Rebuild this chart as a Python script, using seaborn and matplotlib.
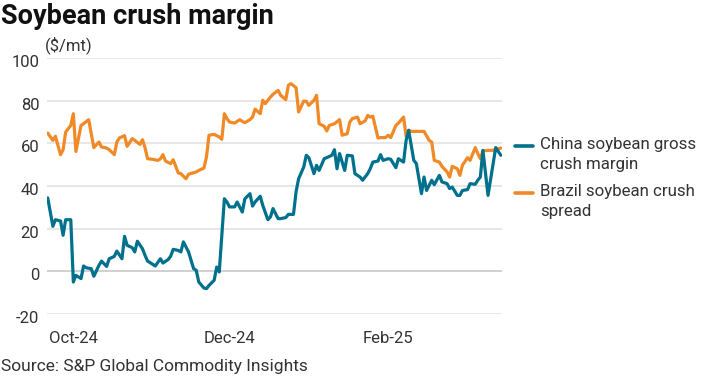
import pandas as pd
import seaborn as sns
import matplotlib.pyplot as plt
import matplotlib.dates as mdates
from matplotlib.lines import Line2D
from matplotlib.transforms import ScaledTranslation

# China soybean gross crush margin ($/mt)
china_dates = [
    "2024-09-21", "2024-09-23", "2024-09-24", "2024-09-26", "2024-09-27", "2024-09-28", "2024-09-30",
    "2024-10-01", "2024-10-02", "2024-10-04", "2024-10-05", "2024-10-06", "2024-10-08", "2024-10-09",
    "2024-10-11", "2024-10-12", "2024-10-14", "2024-10-15", "2024-10-17", "2024-10-18", "2024-10-20",
    "2024-10-21", "2024-10-22", "2024-10-24", "2024-10-25", "2024-10-26", "2024-10-28", "2024-10-29",
    "2024-10-30", "2024-11-01", "2024-11-02", "2024-11-04", "2024-11-05", "2024-11-07", "2024-11-08",
    "2024-11-09", "2024-11-11", "2024-11-12", "2024-11-13", "2024-11-15", "2024-11-17", "2024-11-18",
    "2024-11-19", "2024-11-21", "2024-11-22", "2024-11-23", "2024-11-25", "2024-11-26", "2024-11-27",
    "2024-11-29", "2024-11-30", "2024-12-01", "2024-12-03", "2024-12-04", "2024-12-06", "2024-12-07",
    "2024-12-09", "2024-12-10", "2024-12-11", "2024-12-13", "2024-12-14", "2024-12-16", "2024-12-17",
    "2024-12-18", "2024-12-20", "2024-12-21", "2024-12-23", "2024-12-24", "2024-12-26", "2024-12-27",
    "2024-12-28", "2024-12-30", "2024-12-31", "2025-01-01", "2025-01-03", "2025-01-04", "2025-01-05",
    "2025-01-07", "2025-01-08", "2025-01-10", "2025-01-11", "2025-01-12", "2025-01-13", "2025-01-15",
    "2025-01-16", "2025-01-18", "2025-01-19", "2025-01-21", "2025-01-22", "2025-01-24", "2025-01-25",
    "2025-01-26", "2025-01-28", "2025-01-29", "2025-01-30", "2025-02-01", "2025-02-02", "2025-02-04",
    "2025-02-05", "2025-02-07", "2025-02-08", "2025-02-09", "2025-02-11", "2025-02-12", "2025-02-14",
    "2025-02-15", "2025-02-16", "2025-02-18", "2025-02-19", "2025-02-21", "2025-02-22", "2025-02-24",
    "2025-02-25", "2025-02-26", "2025-02-28", "2025-03-01", "2025-03-02", "2025-03-04", "2025-03-05",
    "2025-03-07", "2025-03-08", "2025-03-09", "2025-03-10", "2025-03-12", "2025-03-15", "2025-03-17",
]
china_margin = [
    34.4, 21.1, 24.2, 23.6, 16.9, 24.2, 24.2,
    -5.0, -1.9, -3.4, 2.5, 1.7, 1.2, -2.3, 2.8, 4.8, 2.3, 5.9, 7.0, 9.5, 5.9,
    16.4, 12.2, 11.1, 9.1, 14.1, 10.6, 7.5, 4.8,
    3.3, 2.5, 5.9, 3.9, 5.5, 7.0, 10.3, 9.8, 9.1, 13.8, 9.1, 1.2, 0.5,
    -5.0, -7.8, -8.1, -6.6, -4.2, 2.0, -0.3, 34.0, 32.5,
    30.2, 30.2, 32.5, 27.8, 34.0, 36.4, 30.6, 32.5, 35.2, 30.9, 24.2, 25.5,
    29.4, 24.7, 24.7, 25.2, 26.7, 26.7, 37.2, 43.4, 48.9, 54.4,
    53.3, 45.8, 49.7, 47.3, 52.8, 53.3, 54.4, 57.0, 48.1, 55.2, 47.3,
    54.4, 54.1, 45.8, 44.2, 42.7, 45.8, 48.1, 51.2, 51.7, 54.7, 52.0,
    52.8, 52.5, 48.6, 52.8, 51.2, 61.4, 66.1, 52.0, 50.5, 36.4,
    44.2, 37.9, 42.7, 40.6, 45.0, 41.9, 41.1, 38.8, 39.5, 35.6,
    35.6, 37.9, 38.3, 41.1, 40.8, 42.7, 44.2, 56.7, 35.6, 58.0, 54.4,
]

# Brazil soybean crush spread ($/mt)
brazil_dates = [
    "2024-09-21", "2024-09-23", "2024-09-24", "2024-09-26", "2024-09-27", "2024-09-28", "2024-09-30",
    "2024-10-01", "2024-10-02", "2024-10-04", "2024-10-05", "2024-10-07", "2024-10-08", "2024-10-09",
    "2024-10-11", "2024-10-12", "2024-10-14", "2024-10-15", "2024-10-17", "2024-10-18", "2024-10-19",
    "2024-10-21", "2024-10-22", "2024-10-24", "2024-10-25", "2024-10-27", "2024-10-28", "2024-10-29",
    "2024-10-30", "2024-11-01", "2024-11-03", "2024-11-04", "2024-11-05", "2024-11-06", "2024-11-08",
    "2024-11-09", "2024-11-11", "2024-11-12", "2024-11-14", "2024-11-15", "2024-11-18", "2024-11-19",
    "2024-11-21", "2024-11-22", "2024-11-23", "2024-11-25", "2024-11-27", "2024-11-28", "2024-11-29",
    "2024-11-30", "2024-12-01", "2024-12-03", "2024-12-05", "2024-12-06", "2024-12-07", "2024-12-09",
    "2024-12-10", "2024-12-11", "2024-12-13", "2024-12-14", "2024-12-15", "2024-12-17", "2024-12-18",
    "2024-12-20", "2024-12-21", "2024-12-23", "2024-12-24", "2024-12-25", "2024-12-27", "2024-12-28",
    "2024-12-30", "2024-12-31", "2025-01-01", "2025-01-03", "2025-01-04", "2025-01-05", "2025-01-07",
    "2025-01-08", "2025-01-09", "2025-01-11", "2025-01-13", "2025-01-14", "2025-01-16", "2025-01-17",
    "2025-01-18", "2025-01-20", "2025-01-21", "2025-01-23", "2025-01-24", "2025-01-25", "2025-01-26",
    "2025-01-28", "2025-01-29", "2025-01-31", "2025-02-01", "2025-02-02", "2025-02-04", "2025-02-05",
    "2025-02-07", "2025-02-08", "2025-02-09", "2025-02-10", "2025-02-11", "2025-02-13", "2025-02-14",
    "2025-02-15", "2025-02-17", "2025-02-18", "2025-02-19", "2025-02-21", "2025-02-22", "2025-02-24",
    "2025-02-25", "2025-02-26", "2025-02-28", "2025-03-01", "2025-03-02", "2025-03-04", "2025-03-05",
    "2025-03-07", "2025-03-08", "2025-03-09", "2025-03-10", "2025-03-12", "2025-03-14", "2025-03-17",
]
brazil_spread = [
    64.8, 61.4, 63.3, 54.7, 57.0, 65.3, 68.4,
    73.9, 56.2, 68.4, 69.2, 71.1, 64.5, 58.0, 60.6, 58.3, 57.8, 57.0, 54.7, 60.6, 62.5,
    63.6, 58.6, 62.2, 61.4, 59.5, 61.7, 58.0, 52.8,
    52.5, 52.0, 52.7, 54.7, 51.7, 50.5, 52.3, 46.1, 45.8, 43.4, 45.5, 46.6, 47.3,
    48.4, 53.6, 63.8, 64.2, 63.0, 61.9, 73.9, 71.6,
    70.0, 69.5, 71.1, 70.3, 69.7, 71.1, 72.3, 76.0, 73.9, 80.2, 78.6, 81.7,
    83.0, 84.8, 82.5, 80.5, 87.2, 88.0, 86.1, 74.7, 79.8, 79.7,
    77.8, 80.2, 82.5, 69.2, 68.0, 65.8, 68.4, 69.2, 71.1, 63.8, 64.5,
    70.0, 71.6, 72.3, 69.2, 70.5, 73.1, 72.3, 72.7, 62.5, 62.7, 62.7,
    63.8, 62.7, 68.4, 69.5, 72.3, 63.3, 66.1, 65.6, 65.6, 65.6,
    65.6, 65.6, 61.4, 60.6, 52.0, 51.2, 49.2, 46.6, 44.2, 49.2, 48.1,
    45.0, 49.7, 53.3, 52.0, 58.0, 55.2, 52.8, 56.4, 56.7, 56.7, 57.8,
]

series_labels = {
    "China": "China soybean gross\ncrush margin",
    "Brazil": "Brazil soybean crush\nspread",
}
y_ticks = [-20, 0, 20, 40, 60, 80, 100]
x_ticks = ["2024-10-01", "2024-12-01", "2025-02-01"]

teal = "#00718d"
orange = "#f18a26"
text_col = "#333333"

sns.set_theme(style="white")
plt.rcParams["font.family"] = ["Roboto", "DejaVu Sans"]
plt.rcParams["axes.unicode_minus"] = False

china = pd.DataFrame({"date": pd.to_datetime(china_dates), "value": china_margin, "series": "China"})
brazil = pd.DataFrame({"date": pd.to_datetime(brazil_dates), "value": brazil_spread, "series": "Brazil"})
df = pd.concat([brazil, china], ignore_index=True)

fig = plt.figure(figsize=(7.2, 3.79), dpi=100)
ax = fig.add_axes([47 / 720, 65 / 379, 455 / 720, 256 / 379])

sns.lineplot(data=df, x="date", y="value", hue="series", hue_order=["Brazil", "China"],
             palette={"China": teal, "Brazil": orange}, linewidth=2.3, legend=False, ax=ax)

ax.set_xlim(pd.Timestamp("2024-09-20 17:00"), pd.Timestamp("2025-03-17 11:00"))
ax.set_ylim(-20, 100)
ax.set_yticks(y_ticks)
ax.set_xticks(pd.to_datetime(x_ticks))
ax.xaxis.set_major_formatter(mdates.DateFormatter("%b-%y"))
ax.set_xlabel("")
ax.set_ylabel("")

for s in ax.spines.values():
    s.set_visible(False)
ax.yaxis.grid(True, color="#e3e3e3", linewidth=1.2)
ax.xaxis.grid(False)
ax.set_axisbelow(True)
ax.get_ygridlines()[1].set_color("#c8c8c8")

ax.tick_params(axis="both", length=0, labelsize=12, colors=text_col)
ax.tick_params(axis="x", pad=12)
ax.tick_params(axis="y", pad=5.5)
for lab in ax.get_yticklabels():
    lab.set_transform(lab.get_transform() + ScaledTranslation(0, -3 / 100, fig.dpi_scale_trans))

fig.text(1 / 720, 1 - 3 / 379, "Soybean crush margin", fontsize=19.5, fontweight="bold",
         color="#111111", ha="left", va="top")
fig.text(45 / 720, 1 - 45 / 379, "($/mt)", fontsize=12, color=text_col, ha="left", va="center")
fig.text(1 / 720, 1 - 366 / 379, "Source: S&P Global Commodity Insights", fontsize=12.5,
         color=text_col, ha="left", va="center")

# legend drawn beside the plot, handle level with the first line of each label
for key, col, top in [("China", teal, 137), ("Brazil", orange, 184)]:
    y_line = 1 - (top + 9) / 379
    fig.add_artist(Line2D([515 / 720, 533 / 720], [y_line, y_line], color=col,
                          linewidth=2.6, transform=fig.transFigure))
    fig.text(540 / 720, 1 - top / 379, series_labels[key], fontsize=12.2, color=text_col,
             ha="left", va="top", linespacing=1.4)

fig.savefig("out.png", dpi=100)
